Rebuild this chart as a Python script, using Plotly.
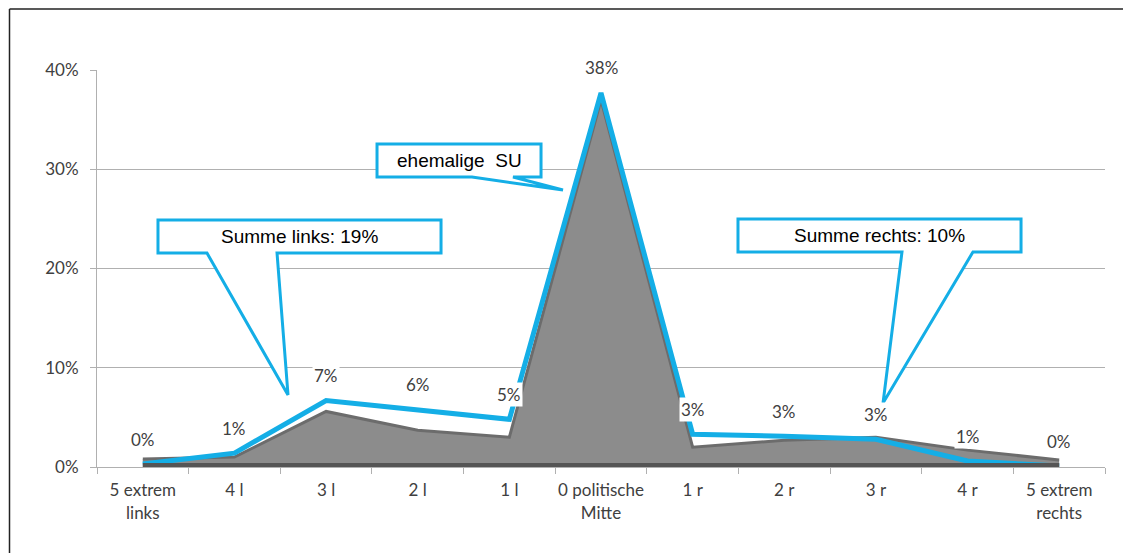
import plotly.graph_objects as go

# ── Data ──────────────────────────────────────────────────────────────────────
CATEGORIES = ["5 extrem<br>links", "4 l", "3 l", "2 l", "1 l",
              "0 politische<br>Mitte", "1 r", "2 r", "3 r", "4 r",
              "5 extrem<br>rechts"]
LINE_VALUES = [0.003, 0.014, 0.067, 0.058, 0.048, 0.377,
               0.033, 0.031, 0.028, 0.006, 0.001]
AREA_VALUES = [0.008, 0.010, 0.056, 0.037, 0.030, 0.370,
               0.020, 0.027, 0.030, 0.017, 0.007]
Y_TICKS = [0, 0.1, 0.2, 0.3, 0.4]

# ── Style ─────────────────────────────────────────────────────────────────────
CYAN = "#14aee6"
GRID = "#b0b0b0"
TEXT = "#404040"
OFF = 8                              # page body margin
W, H = 1131 - OFF, 553 - OFF
PL, PR, PT, PB = 97, 1105, 70, 467   # plot area, screen pixels


def px(xp, yp):
    """screen pixel position -> paper coords"""
    return (xp - PL) / (PR - PL), (PB - yp) / (PB - PT)


def callout_path(box, base, tip):
    x0, y0, x1, y1 = box
    pts = [(x0, y0), (x1, y0), (x1, y1), (base[1], y1), tip, (base[0], y1), (x0, y1)]
    pts = [px(*p) for p in pts]
    return "M " + " L ".join(f"{a:.4f},{b:.4f}" for a, b in pts) + " Z"


fig = go.Figure()

# grey area
fig.add_trace(go.Scatter(
    x=CATEGORIES, y=AREA_VALUES, fill="tozeroy",
    fillcolor="#8c8c8c", mode="lines",
    line=dict(color="#6c6c6c", width=3),
    hoverinfo="skip", showlegend=False,
))

# cyan line
fig.add_trace(go.Scatter(
    x=CATEGORIES, y=LINE_VALUES, mode="lines",
    line=dict(color=CYAN, width=5),
    showlegend=False,
))

# data labels
for cat, v in zip(CATEGORIES, LINE_VALUES):
    fig.add_annotation(
        x=cat, y=v, xref="x", yref="y", yshift=25,
        text=f"{round(v * 100)}%", showarrow=False,
        bgcolor="white", borderpad=1,
        font=dict(family="Lato", size=17, color=TEXT),
    )

# callouts
callouts = [
    ("ehemalige  SU", (377, 144, 541, 177), (472, 513), (563, 190)),
    ("Summe links: 19%", (158, 220, 441, 253), (207, 277), (288, 395)),
    ("Summe rechts: 10%", (738, 219, 1021, 252), (902, 973), (883, 403)),
]
shapes = [
    # dark floor edge of the area
    dict(type="line", xref="x", yref="y", x0=0, x1=10, y0=0.002, y1=0.002,
         line=dict(color="#555555", width=4), layer="above"),
]
for text, box, base, tip in callouts:
    shapes.append(dict(
        type="path", xref="paper", yref="paper",
        path=callout_path(box, base, tip),
        fillcolor="white", line=dict(color=CYAN, width=3), layer="above",
    ))
    cx, cy = px((box[0] + box[2]) / 2, (box[1] + box[3]) / 2)
    fig.add_annotation(
        x=cx, y=cy, xref="paper", yref="paper", text=text, showarrow=False,
        xanchor="center", yanchor="middle",
        font=dict(family="Liberation Sans", size=19, color="black"),
    )

# outer frame (top and left edges only visible)
fx0, fy0 = px(9.5, 9)
fx1, fy1 = px(1300, 700)
for x0, y0, x1, y1 in [(fx0, fy0, fx1, fy0), (fx0, fy0, fx0, fy1)]:
    shapes.append(dict(type="line", xref="paper", yref="paper",
                       x0=x0, y0=y0, x1=x1, y1=y1,
                       line=dict(color="#222222", width=1.5), layer="below"))

fig.update_layout(
    width=W, height=H,
    margin=dict(l=PL - OFF, r=W + OFF - PR, t=PT - OFF, b=H + OFF - PB),
    paper_bgcolor="white", plot_bgcolor="white",
    shapes=shapes,
    xaxis=dict(
        type="category", range=[-0.5, len(CATEGORIES) - 0.5],
        tickson="boundaries", ticks="outside", ticklen=6, tickangle=0,
        tickcolor=GRID, showline=True, linecolor=GRID, showgrid=False,
        tickfont=dict(family="Lato", size=17, color=TEXT),
        ticklabelstandoff=8, automargin=False,
    ),
    yaxis=dict(
        range=[0, 0.4], tickvals=Y_TICKS, tickformat=".0%",
        ticks="outside", ticklen=6, tickcolor=GRID,
        showline=True, linecolor=GRID, gridcolor=GRID, zeroline=False,
        tickfont=dict(family="Lato", size=17, color=TEXT),
        ticklabelstandoff=8, automargin=False,
    ),
)

fig.write_html("out.html")
